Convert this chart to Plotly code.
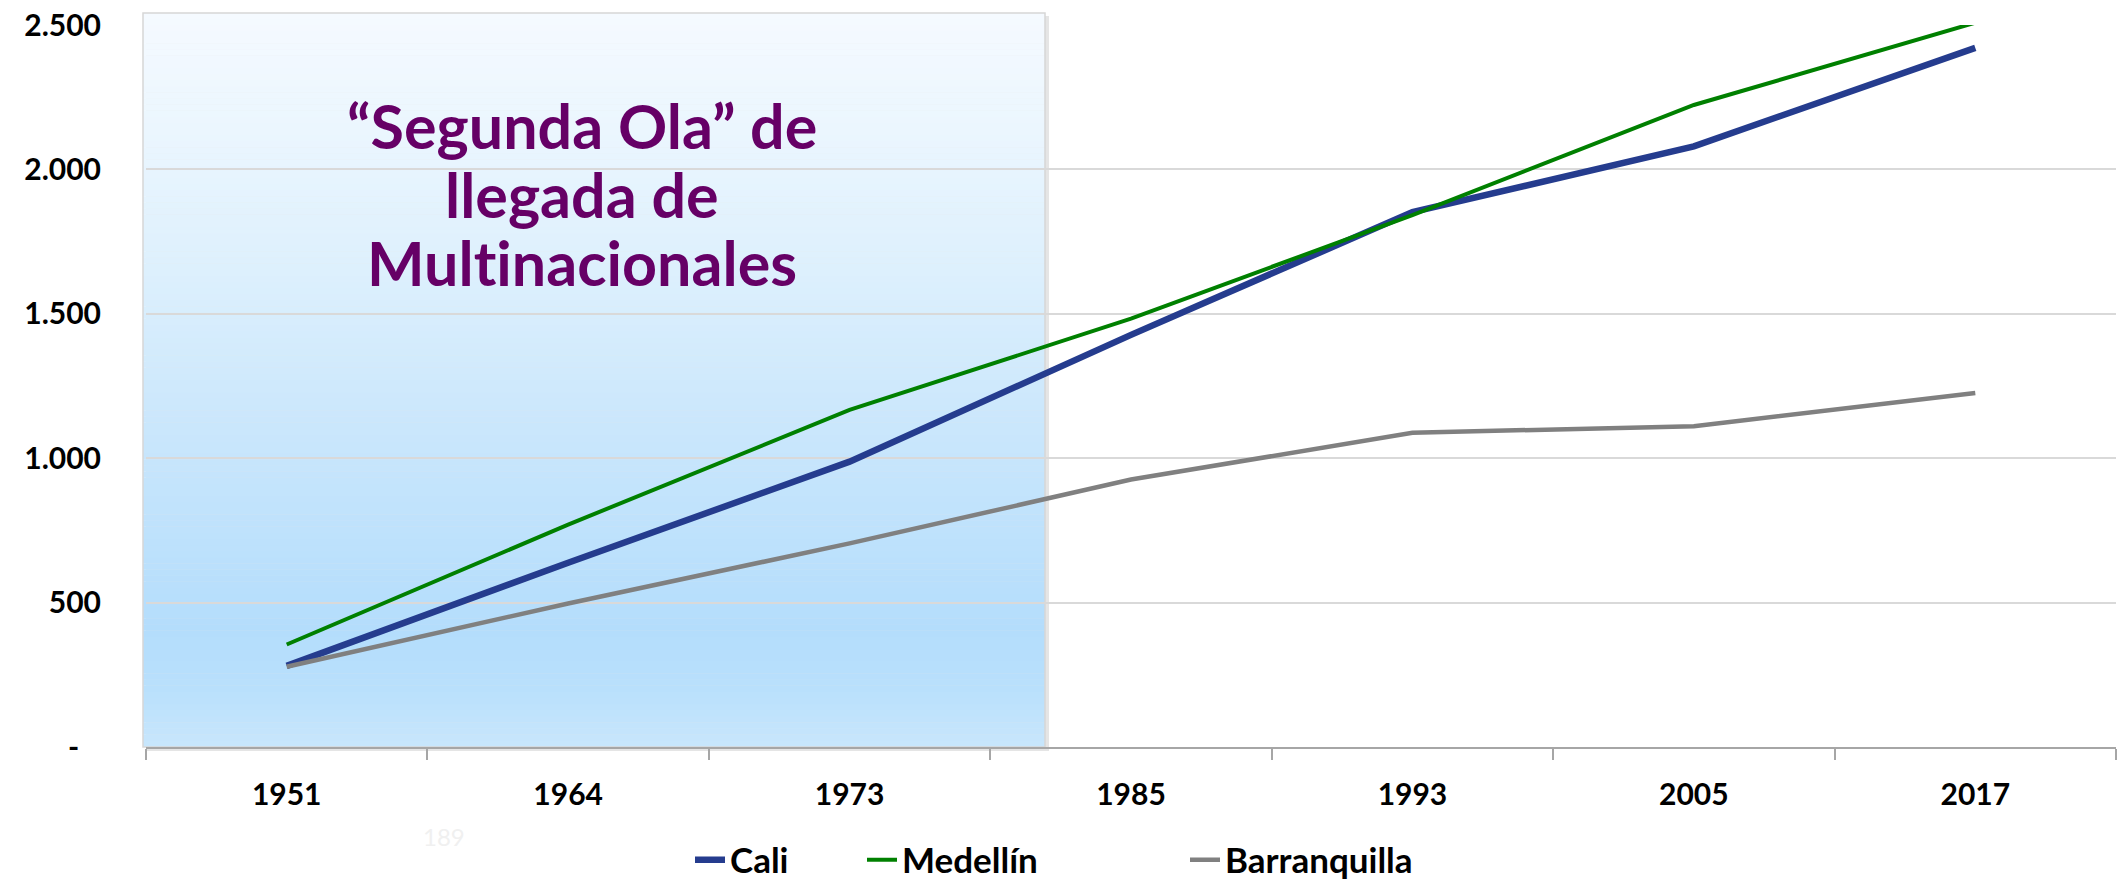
import plotly.graph_objects as go

# ---- data ----
years = ["1951", "1964", "1973", "1985", "1993", "2005", "2017"]
cali = [281, 638, 988, 1427, 1852, 2080, 2421]
medellin = [355, 770, 1167, 1483, 1842, 2223, 2508]
barranquilla = [278, 497, 705, 926, 1088, 1111, 1226]

y_tickvals = [0, 500, 1000, 1500, 2000, 2500]
y_ticktext = ["-\u00a0\u00a0\u00a0", "500", "1.000", "1.500", "2.000", "2.500"]

annotation_lines = ["\u201cSegunda Ola\u201d de", "llegada de", "Mult\u200cinacionales"]

FONT = "Lato"
W, H = 2121, 880
# plot area in page pixels (body margin removed by post_script)
PLOT_L, PLOT_R, PLOT_T, PLOT_B = 146, 2116, 25, 747
plot_w = PLOT_R - PLOT_L
plot_h = PLOT_B - PLOT_T

fig = go.Figure()

fig.add_trace(go.Scatter(x=years, y=cali, name="Cali", mode="lines", legend="legend",
                         line=dict(color="#253c8e", width=6.5)))
fig.add_trace(go.Scatter(x=years, y=medellin, name="Medellín", mode="lines", legend="legend2",
                         line=dict(color="#008000", width=4)))
fig.add_trace(go.Scatter(x=years, y=barranquilla, name="Barranquilla", mode="lines", legend="legend3",
                         line=dict(color="#808080", width=4.5)))

# ---- gradient shaded region (decoration) ----
def hex2rgb(h):
    h = h.lstrip("#")
    return tuple(int(h[i:i + 2], 16) for i in (0, 2, 4))

stops = [(0.0, "#c8e6fc"), (0.08, "#b9e0fc"), (0.16, "#b4ddfc"), (0.3, "#bfe2fc"),
         (0.47, "#cde8fc"), (0.65, "#ddf0fd"), (0.84, "#ebf6fe"), (1.0, "#f5faff")]

def color_at(f):
    for (f0, c0), (f1, c1) in zip(stops[:-1], stops[1:]):
        if f0 <= f <= f1:
            t = (f - f0) / (f1 - f0) if f1 > f0 else 0
            a, b = hex2rgb(c0), hex2rgb(c1)
            return "rgb(%d,%d,%d)" % tuple(round(a[i] + (b[i] - a[i]) * t) for i in range(3))
    return stops[-1][1]

def px_x(px):  # page px -> paper
    return (px - PLOT_L) / plot_w

def px_y(py):
    return (PLOT_B - py) / plot_h

rx0, rx1 = px_x(143), px_x(1045)
ry0, ry1 = px_y(747), px_y(13)
shapes = []
shapes.append(dict(type="rect", xref="paper", yref="paper", layer="below",
                   x0=px_x(146), x1=px_x(1049), y0=px_y(751), y1=px_y(16),
                   fillcolor="rgba(0,0,0,0.10)", line=dict(width=0)))
N = 120
for i in range(N):
    f0 = i / N
    f1 = (i + 1) / N
    shapes.append(dict(type="rect", xref="paper", yref="paper", layer="below",
                       x0=rx0, x1=rx1,
                       y0=ry0 + (ry1 - ry0) * f0, y1=ry0 + (ry1 - ry0) * f1 + 0.0005,
                       fillcolor=color_at((f0 + f1) / 2), line=dict(width=0)))
shapes.append(dict(type="rect", xref="paper", yref="paper", layer="below",
                   x0=rx0, x1=rx1, y0=ry0, y1=ry1,
                   fillcolor="rgba(0,0,0,0)", line=dict(color="#d6d6d6", width=1.5)))

annotations = []
line_y = [125, 194, 262]  # pixel centres from top (page)
for txt, py in zip(annotation_lines, line_y):
    annotations.append(dict(text="<b>%s</b>" % txt, xref="paper", yref="paper",
                            x=px_x(582), y=px_y(py),
                            xanchor="center", yanchor="middle", showarrow=False,
                            font=dict(family=FONT, size=61, color="#660066")))
annotations.append(dict(text="189", xref="paper", yref="paper",
                        x=px_x(444), y=px_y(836),
                        xanchor="center", yanchor="middle", showarrow=False,
                        font=dict(family=FONT, size=24, color="#f0f0f0")))

leg_font = dict(family=FONT, size=35, color="black", weight="bold")
def leg(xpx):
    return dict(orientation="h", x=px_x(xpx), xanchor="left", y=px_y(860), yanchor="middle",
                font=leg_font, bgcolor="rgba(0,0,0,0)", borderwidth=0)

fig.update_layout(
    width=W, height=H,
    margin=dict(l=PLOT_L, r=W - PLOT_R, t=PLOT_T, b=H - PLOT_B, autoexpand=False),
    paper_bgcolor="white", plot_bgcolor="white",
    font=dict(family=FONT, color="black"),
    shapes=shapes, annotations=annotations,
    showlegend=True,
    legend=leg(690),
    legend2=leg(862),
    legend3=leg(1185),
    xaxis=dict(type="category", tickson="boundaries", ticks="outside", ticklen=11,
               tickcolor="#a6a6a6", tickwidth=1.5, showline=True, linecolor="#a6a6a6",
               linewidth=2, showgrid=False, zeroline=False, automargin=False,
               tickfont=dict(family=FONT, size=30, color="black", weight="bold"),
               ticklabelstandoff=20, range=[-0.5, 6.5], ticklabeloverflow="allow"),
    yaxis=dict(range=[0, 2500], tickvals=y_tickvals, ticktext=y_ticktext,
               showgrid=True, gridcolor="#d9d9d9", gridwidth=2, zeroline=False,
               showline=False, ticks="", ticklabelstandoff=44, automargin=False,
               ticklabeloverflow="allow",
               tickfont=dict(family=FONT, size=30, color="black", weight="bold")),
)

fig.write_html("out.html", config={"displayModeBar": False},
               post_script="document.body.style.margin='0';document.body.style.overflow='hidden';")
